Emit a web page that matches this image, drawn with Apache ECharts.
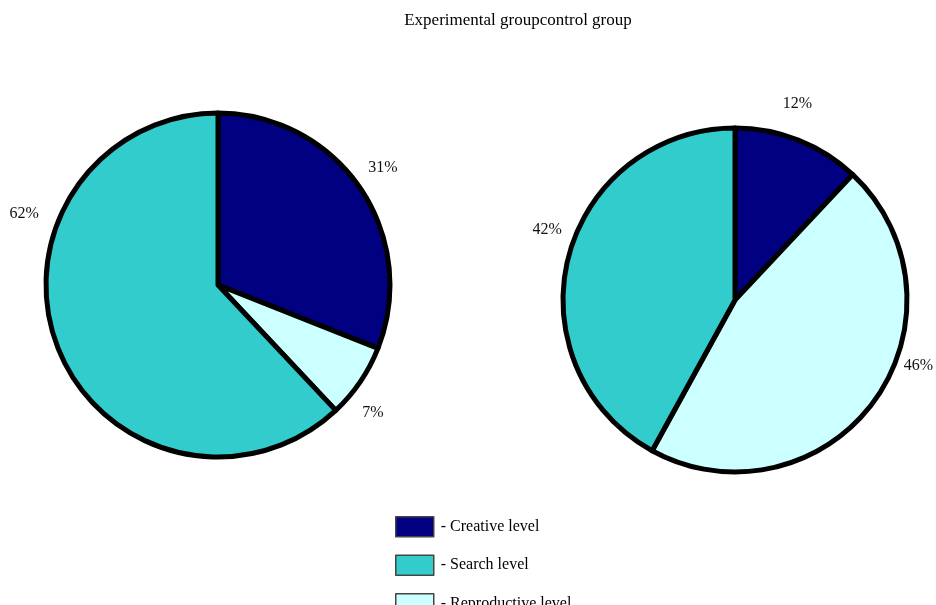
<!DOCTYPE html>
<html>
<head>
<meta charset="utf-8">
<script src="https://cdn.jsdelivr.net/npm/echarts@6/dist/echarts.min.js"></script>
<style>
  html, body { margin: 0; padding: 0; background: #fff; }
  #chart { width: 936px; height: 605px; }
</style>
</head>
<body>
<div id="chart"></div>
<script>
var levels = ['Creative level', 'Reproductive level', 'Search level'];
var legendOrder = ['Creative level', 'Search level', 'Reproductive level'];
var experimental = [31, 7, 62];
var control = [12, 46, 42];
var colors = { 'Creative level': '#000080', 'Search level': '#33CCCC', 'Reproductive level': '#CCFFFF' };

// label nudges (px) so the percentages sit where the original put them
var expShift = [[-7, -14], [-13, 24], [-3, -139]];
var ctlShift = [[-25, -25], [15, -42], [10, -24]];

function makeData(values) {
    return levels.map(function (name, i) {
        return { name: name, value: values[i], itemStyle: { color: colors[name] } };
    });
}

function pieSeries(name, center, values, shift) {
    return {
        name: name,
        type: 'pie',
        center: center,
        radius: 172,
        startAngle: 90,
        clockwise: true,
        animation: false,
        silent: true,
        itemStyle: { borderColor: '#000', borderWidth: 5 },
        label: {
            show: true,
            position: 'outside',
            formatter: '{d}%',
            fontFamily: 'Liberation Serif',
            fontSize: 16,
            color: '#111'
        },
        labelLine: { show: false, length: 12, length2: 0 },
        labelLayout: function (p) {
            var s = shift[p.dataIndex];
            return { dx: s[0], dy: s[1] };
        },
        data: makeData(values)
    };
}

var chart = echarts.init(document.getElementById('chart'));
chart.setOption({
    backgroundColor: '#fff',
    title: {
        text: 'Experimental groupcontrol group',
        left: 513,
        textAlign: 'center',
        top: 7,
        textStyle: { fontFamily: 'Liberation Serif', fontSize: 17, fontWeight: 'normal', color: '#000' }
    },
    legend: {
        orient: 'vertical',
        left: 390,
        top: 511,
        height: 140,
        itemWidth: 38,
        itemHeight: 20,
        itemGap: 17,
        icon: 'rect',
        data: legendOrder,
        formatter: '- {name}',
        itemStyle: { borderColor: '#444', borderWidth: 1.5 },
        textStyle: { fontFamily: 'Liberation Serif', fontSize: 16, color: '#000', padding: [0, 0, 0, 2] }
    },
    series: [
        pieSeries('Experimental group', [218, 285], experimental, expShift),
        pieSeries('Control group', [735, 300], control, ctlShift)
    ]
});
</script>
</body>
</html>
